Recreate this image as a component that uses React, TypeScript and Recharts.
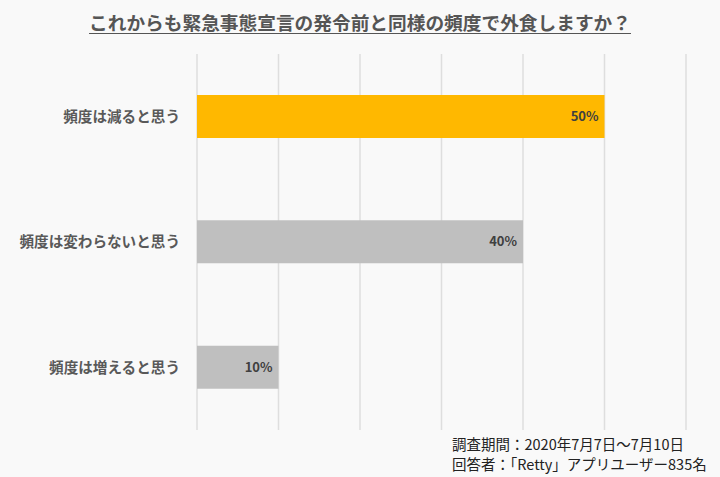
import { Bar, BarChart, CartesianGrid, Cell, LabelList, XAxis, YAxis } from "recharts";

// 回答カテゴリと割合（%）
const categories = ["頻度は減ると思う", "頻度は変わらないと思う", "頻度は増えると思う"];
const shares = [50, 40, 10];
const barColors = ["#FFB800", "#BFBFBF", "#BFBFBF"];
const gridTicks = [0, 10, 20, 30, 40, 50, 60];

const title = "これからも緊急事態宣言の発令前と同様の頻度で外食しますか？";
const notes = ["調査期間：2020年7月7日〜7月10日", "回答者：「Retty」アプリユーザー835名"];

const data = categories.map((name, i) => ({ name, value: shares[i] }));

const font = "'Noto Sans CJK JP', 'Noto Sans', sans-serif";

export default function App() {
  return (
    <div
      style={{
        position: "absolute",
        left: 0,
        top: 0,
        width: 720,
        height: 477,
        background: "#f9f9f9",
        fontFamily: font,
        overflow: "hidden",
      }}
    >
      <div
        style={{
          position: "absolute",
          top: 8,
          left: 0,
          width: 720,
          textAlign: "center",
          fontSize: 18.7,
          fontWeight: 700,
          color: "#555555",
          textDecoration: "underline",
          textUnderlineOffset: 3,
          lineHeight: "28px",
        }}
      >
        {title}
      </div>

      <BarChart
        width={720}
        height={477}
        data={data}
        layout="vertical"
        margin={{ top: 54, right: 34, bottom: 47, left: 0 }}
        barSize={43}
      >
        <CartesianGrid horizontal={false} stroke="#dedede" strokeWidth={1.5} />
        <XAxis type="number" domain={[0, 60]} ticks={gridTicks} hide />
        <YAxis
          type="category"
          dataKey="name"
          width={197}
          axisLine={false}
          tickLine={false}
          tickMargin={11}
          tick={{ fill: "#595959", fontSize: 14.6, fontWeight: 700, fontFamily: font }}
        />
        <Bar dataKey="value" isAnimationActive={false}>
          {data.map((d, i) => (
            <Cell key={d.name} fill={barColors[i]} />
          ))}
          <LabelList
            dataKey="value"
            position="insideRight"
            offset={6}
            formatter={(v: any) => `${v}%`}
            style={{ fill: "#404040", fontSize: 13, fontWeight: 700, fontFamily: font }}
          />
        </Bar>
      </BarChart>

      <div
        style={{
          position: "absolute",
          left: 452,
          top: 434,
          fontSize: 14.5,
          color: "#222222",
          lineHeight: "20px",
          whiteSpace: "nowrap",
        }}
      >
        {notes.map((n) => (
          <div key={n}>{n}</div>
        ))}
      </div>
    </div>
  );
}
